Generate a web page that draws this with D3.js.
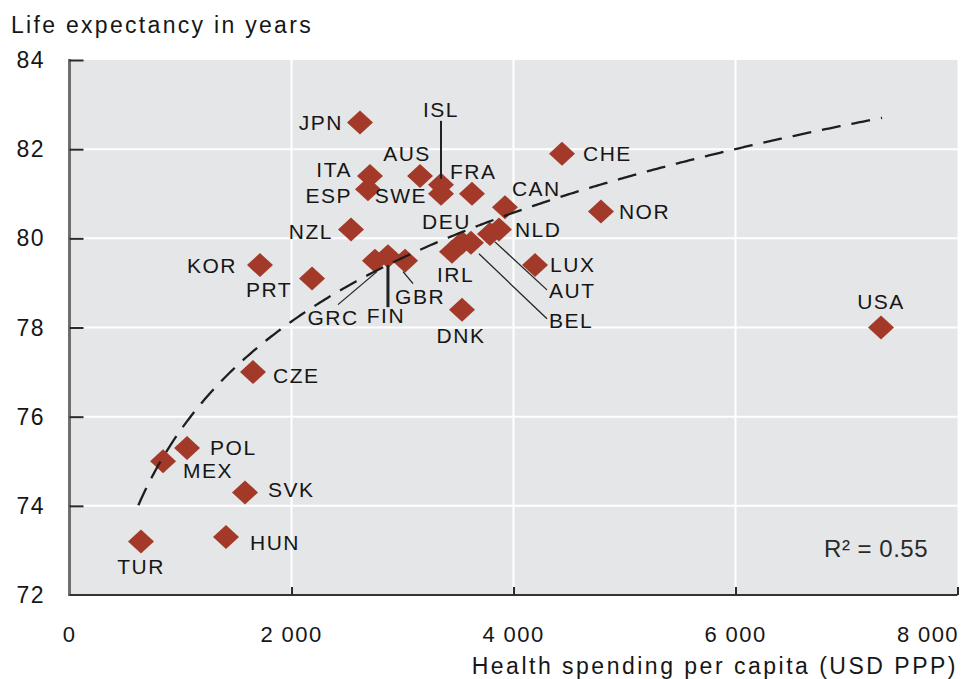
<!DOCTYPE html>
<html>
<head>
<meta charset="utf-8">
<script src="https://cdn.jsdelivr.net/npm/d3@7"></script>
<style>
  html, body { margin: 0; padding: 0; background: #ffffff; }
  svg { display: block; }
  text { font-family: "Liberation Sans", Arial, sans-serif; fill: #161616; }
</style>
</head>
<body>
<svg id="chart" width="962" height="679"></svg>
<script>
// Country codes, health spending per capita (USD PPP) and life expectancy (years)
const countries = ["JPN","ISL","AUS","ITA","ESP","SWE","FRA","NZL","DEU","CAN","CHE","NOR","NLD","LUX","AUT","BEL","IRL","DNK","GBR","FIN","GRC","KOR","PRT","CZE","POL","MEX","SVK","HUN","TUR","USA"];
const spending  = [2617,3347,3158,2707,2689,3347,3626,2536,3536,3923,4437,4788,3869,4194,3788,3617,3446,3536,3023,2869,2752,1716,2185,1653,1059,843,1581,1410,644,7311];
const lifeExp   = [82.6,81.2,81.4,81.4,81.1,81.0,81.0,80.2,79.9,80.7,81.9,80.6,80.2,79.4,80.1,79.9,79.7,78.4,79.5,79.6,79.5,79.4,79.1,77.0,75.3,75.0,74.3,73.3,73.2,78.0];

// Axis ticks
const xTicks = [0, 2000, 4000, 6000, 8000];
const xTickLabels = ["0", "2 000", "4 000", "6 000", "8 000"];
const yTicks = [72, 74, 76, 78, 80, 82, 84];

// Logarithmic trend: life = a + b * ln(spending), drawn over its fitted range
const trendA = 51.38, trendB = 3.52;
const trendRange = [620, 7320];
const rSquared = "0.55";

// Label placement for each country: [dx, dy, anchor] relative to its marker
const labelPlace = {
  JPN:[-17,8,"end"], ISL:[0,-68,"middle"], AUS:[-13,-15,"middle"], ITA:[-18,1,"end"],
  ESP:[-16,14,"end"], SWE:[-14,9,"end"], FRA:[-22,-15,"start"], NZL:[-18,10,"end"],
  DEU:[-40,-14,"start"], CAN:[7,-11,"start"], CHE:[21,7,"start"], NOR:[18,7,"start"],
  NLD:[16,8,"start"], LUX:[15,7,"start"], AUT:[59,64,"start"], BEL:[78,85,"start"],
  IRL:[-15,30,"start"], DNK:[-1,33,"middle"], GBR:[-10,43,"start"], FIN:[-2,67,"middle"],
  GRC:[-42,64,"middle"], KOR:[-23,8,"end"], PRT:[-20,19,"end"], CZE:[20,11,"start"],
  POL:[23,7,"start"], MEX:[20,17,"start"], SVK:[23,5,"start"], HUN:[24,13,"start"],
  TUR:[0,32,"middle"], USA:[0,-19,"middle"]
};
// Leader lines from marker to label: [dx1, dy1, dx2, dy2, width]
const leaders = {
  ISL:[0,-6,0,-64,2], FIN:[0,9,0,51,3], GRC:[2,11,-37,44,1.3],
  GBR:[-2,11,8,23,1.3], AUT:[5,8,57,56,1.3], BEL:[8,11,76,76,1.3]
};

const svg = d3.select("#chart");
const x = d3.scaleLinear().domain([0, 8000]).range([69.5, 957.5]);
const y = d3.scaleLinear().domain([72, 84]).range([595, 60]);

// Plot background
svg.append("rect")
  .attr("x", x(0)).attr("y", y(84))
  .attr("width", x(8000) - x(0)).attr("height", y(72) - y(84))
  .attr("fill", "#e5e6e8");

// White grid
const grid = svg.append("g").attr("stroke", "#ffffff").attr("stroke-width", 2);
grid.selectAll("line.h").data(yTicks.filter(v => v > 72 && v < 84)).join("line")
  .attr("x1", x(0)).attr("x2", x(8000)).attr("y1", d => y(d)).attr("y2", d => y(d));
grid.selectAll("line.v").data(xTicks.filter(v => v > 0 && v < 8000)).join("line")
  .attr("y1", y(84)).attr("y2", y(72)).attr("x1", d => x(d)).attr("x2", d => x(d));

// Axes drawn with d3-axis, then restyled
const yAxis = svg.append("g").attr("transform", `translate(${x(0)},0)`)
  .call(d3.axisRight(y).tickValues(yTicks).tickSize(14).tickFormat(""));
yAxis.select(".domain").attr("stroke", "#6f6f6f").attr("stroke-width", 3)
  .attr("d", `M0,${y(84) - 1}V${y(72) + 1}`);
yAxis.selectAll(".tick line").attr("stroke", "#2a2a2a").attr("stroke-width", 2);
yAxis.selectAll(".tick").filter(d => d === 72).remove();

const xAxis = svg.append("g").attr("transform", `translate(0,${y(72)})`)
  .call(d3.axisTop(x).tickValues(xTicks).tickSize(8).tickFormat(""));
xAxis.select(".domain").attr("stroke", "#333").attr("stroke-width", 2)
  .attr("d", `M${x(0)},0H${x(8000)}`);
xAxis.selectAll(".tick line").attr("stroke", "#2a2a2a").attr("stroke-width", 2);
xAxis.selectAll(".tick").filter(d => d === 0).remove();

// Tick labels (the last one is kept inside the frame)
svg.append("g").selectAll("text").data(xTicks).join("text")
  .attr("x", (d, i) => i === xTicks.length - 1 ? 959 : x(d))
  .attr("y", 642)
  .attr("text-anchor", (d, i) => i === xTicks.length - 1 ? "end" : "middle")
  .style("font-size", "22px").style("letter-spacing", "1.4px")
  .text((d, i) => xTickLabels[i]);
svg.append("g").selectAll("text").data(yTicks).join("text")
  .attr("x", 45).attr("y", d => y(d) + 8)
  .attr("text-anchor", "end")
  .style("font-size", "23px").style("letter-spacing", "1.5px")
  .text(d => d);

// Axis titles
svg.append("text").attr("x", 11).attr("y", 33)
  .style("font-size", "23px").style("letter-spacing", "2.3px")
  .text("Life expectancy in years");
svg.append("text").attr("x", 958).attr("y", 674).attr("text-anchor", "end")
  .style("font-size", "23px").style("letter-spacing", "2.5px")
  .text("Health spending per capita (USD PPP)");

const pts = countries.map((c, i) => ({ c, px: x(spending[i]), py: y(lifeExp[i]) }));

// Diamond markers
svg.append("g").selectAll("path").data(pts).join("path")
  .attr("d", d => `M${d.px},${d.py - 12}L${d.px + 13},${d.py}L${d.px},${d.py + 12}L${d.px - 13},${d.py}Z`)
  .attr("fill", "#a33a29");

// Leader lines
svg.append("g").selectAll("line").data(pts.filter(d => leaders[d.c])).join("line")
  .attr("x1", d => d.px + leaders[d.c][0]).attr("y1", d => d.py + leaders[d.c][1])
  .attr("x2", d => d.px + leaders[d.c][2]).attr("y2", d => d.py + leaders[d.c][3])
  .attr("stroke", "#222").attr("stroke-width", d => leaders[d.c][4]);

// Trend curve
const trendXs = d3.range(trendRange[0], trendRange[1] + 1, 20);
const trend = d3.line().x(v => x(v)).y(v => y(trendA + trendB * Math.log(v))).curve(d3.curveBasis);
svg.append("path").datum(trendXs)
  .attr("d", trend)
  .attr("fill", "none").attr("stroke", "#1e1e1e")
  .attr("stroke-width", 2.3).attr("stroke-dasharray", "19,11");

// Country labels
svg.append("g").selectAll("text").data(pts).join("text")
  .attr("x", d => d.px + labelPlace[d.c][0])
  .attr("y", d => d.py + labelPlace[d.c][1])
  .attr("text-anchor", d => labelPlace[d.c][2])
  .style("font-size", "21px").style("letter-spacing", "1.5px")
  .text(d => d.c);

// Goodness of fit note
svg.append("text").attr("x", 928).attr("y", 557).attr("text-anchor", "end")
  .style("font-size", "24px").style("letter-spacing", "0.5px").style("fill", "#2a2a2a")
  .text("R\u00B2 = " + rSquared);
</script>
</body>
</html>
